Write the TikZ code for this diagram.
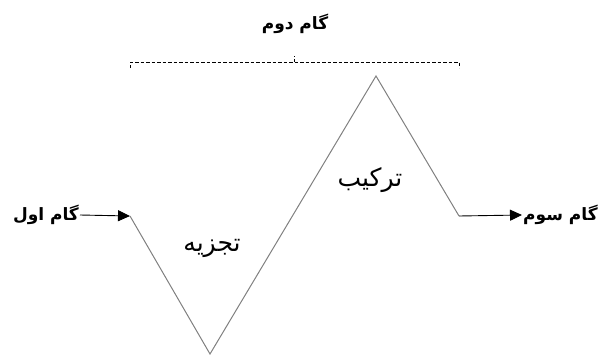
\documentclass[tikz,border=0pt]{standalone}
\usepackage{fontspec}
\newfontfamily\arabicfont[Script=Arabic]{DejaVu Sans}
\TeXXeTstate=1
\usetikzlibrary{arrows.meta}
\tikzset{
  steplabel/.style={font=\arabicfont\bfseries\fontsize{17}{20}\selectfont, inner sep=1pt},
  phaselabel/.style={font=\arabicfont\fontsize{25}{30}\selectfont, inner sep=1pt},
  zig/.style={draw=gray, line width=1pt},
  flow/.style={draw=black, line width=0.9pt, -{Triangle[length=12pt,width=11pt]}},
  bracket/.style={draw=black, line width=0.9pt, dash pattern=on 3.5pt off 2pt}
}
\begin{document}
\begin{tikzpicture}[x=1pt,y=-1pt]
\useasboundingbox (0,0) rectangle (600,356);
\coordinate (a) at (130,216);
\coordinate (b) at (210,354);
\coordinate (c) at (376,76);
\coordinate (d) at (459,216);
\coordinate (bl) at (130,68);
\coordinate (br) at (459,68);
\coordinate (tl) at (130,62);
\coordinate (tr) at (459,62);
\coordinate (tm) at (294,62);
\coordinate (tmu) at (294,56);
\draw[zig] (a) -- (b) -- (c) -- (d);
\node[steplabel, anchor=east] (s1) at (80,215) {\beginR گام اول\endR};
\node[steplabel, anchor=west] (s3) at (522,215) {\beginR گام سوم\endR};
\node[steplabel] (s2) at (295,24) {\beginR گام دوم\endR};
\node[phaselabel] (p1) at (212,248) {\beginR تجزیه\endR};
\node[phaselabel] (p2) at (370,180) {\beginR ترکیب\endR};
\draw[flow] (s1.east) -- (a);
\draw[flow] (d) -- (s3.west);
\draw[bracket] (bl) -- (tl) -- (tr) -- (br);
\draw[bracket] (tm) -- (tmu);
\end{tikzpicture}
\end{document}
